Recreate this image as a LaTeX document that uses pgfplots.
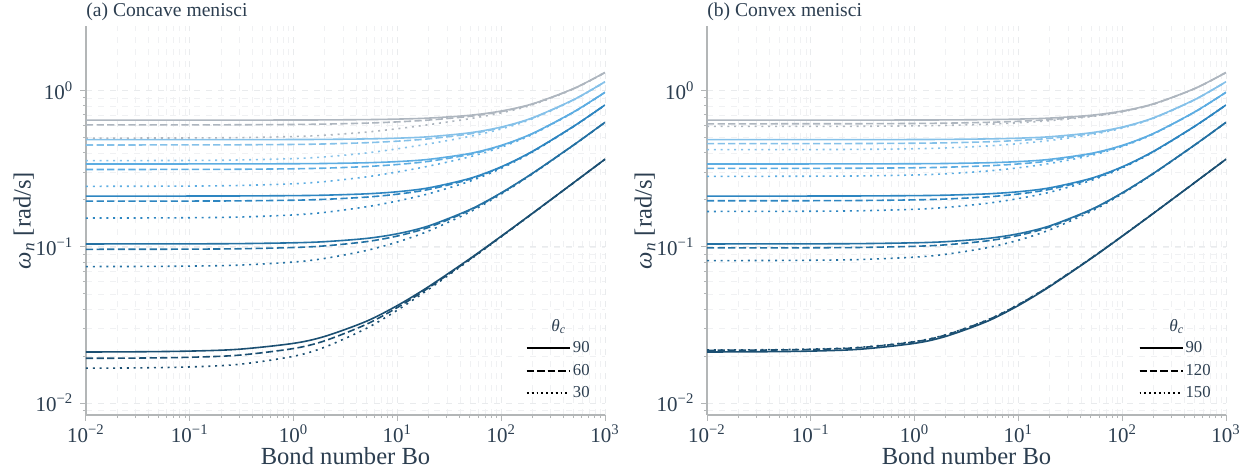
\documentclass[border=0pt]{standalone}
\usepackage{fontspec}
\setmainfont{Liberation Serif}
\usepackage{amsmath}
\usepackage{pgfplots}
\pgfplotsset{compat=1.18}
\usepackage{pgfplotstable}

\definecolor{c1}{HTML}{1B4F72}
\definecolor{c2}{HTML}{2471A3}
\definecolor{c3}{HTML}{2E86C1}
\definecolor{c4}{HTML}{5DADE2}
\definecolor{c5}{HTML}{85C1E9}
\definecolor{c6}{HTML}{AEB6BF}
\definecolor{txt}{HTML}{2C3E50}
\definecolor{axgray}{HTML}{B3B6B7}
\definecolor{gridc}{HTML}{E9EBED}

% 10^k tick labels in the text font
\newcommand\logtick[1]{\pgfmathtruncatemacro\tmpe{round(#1)}\pgfmathtruncatemacro\tmpa{abs(\tmpe)}10\textsuperscript{\ifnum\tmpe<0 −\fi\tmpa}}

% 90 deg (shared by both panels)
\pgfplotstableread{
Bo    s1       s2      s3      s4      s5      s6
0.01  0.02123  0.10446 0.21163 0.33985 0.48627 0.64889
0.03  0.021291 0.10450 0.21166 0.33987 0.48630 0.64891
0.1   0.02151  0.10462 0.21176 0.33996 0.48637 0.64898
0.3   0.022116 0.10499 0.21205 0.34021 0.48659 0.64918
1     0.02412  0.10626 0.21306 0.34107 0.48736 0.64988
2     0.02673  0.10805 0.21450 0.34231 0.48846 0.65088
5     0.03335  0.11326 0.21875 0.34598 0.49173 0.65386
10    0.04213  0.12143 0.22567 0.35202 0.49714 0.65880
20    0.05568  0.13632 0.23890 0.36380 0.50779 0.66858
50    0.08412  0.17349 0.27479 0.39703 0.53848 0.69707
100   0.11707  0.22201 0.32595 0.44696 0.58607 0.74214
200   0.16419  0.29609 0.40951 0.53296 0.67118 0.82492
500   0.25831  0.45034 0.59337 0.73273 0.87838 1.03424
1000  0.36469  0.62826 0.81202 0.97892 1.14309 1.31082
}\tabsolid

% concave: d = 60 deg, p = 30 deg
\pgfplotstableread{
Bo    d1       d2       d3      d4      d5      d6      p1       p2       p3      p4      p5      p6
0.01  0.01935  0.09653  0.19641 0.31338 0.44980 0.60477 0.01672  0.07485  0.15307 0.24445 0.35702 0.49783
0.03  0.019407 0.096589 0.19647 0.31343 0.44990 0.60487 0.016788 0.074957 0.15323 0.24466 0.35728 0.49807
0.1   0.01964  0.09677  0.19668 0.31368 0.45014 0.60517 0.01703  0.07535  0.15380 0.24538 0.35811 0.49894
0.3   0.020263 0.097311 0.19724 0.31435 0.45088 0.60593 0.017706 0.076455 0.15533 0.24739 0.36037 0.50133
1     0.02235  0.09911  0.19917 0.31658 0.45334 0.60855 0.01993  0.08000  0.16031 0.25389 0.36781 0.50925
2     0.02505  0.10153  0.20172 0.31955 0.45656 0.61202 0.02281  0.08441  0.16647 0.26204 0.37724 0.51934
5     0.03190  0.10804  0.20838 0.32716 0.46483 0.62077 0.03001  0.09477  0.18062 0.28087 0.39953 0.54362
10    0.04092  0.11742  0.21770 0.33731 0.47576 0.63232 0.03937  0.10748  0.19690 0.30210 0.42505 0.57171
20    0.05473  0.13344  0.23331 0.35343 0.49245 0.64946 0.05352  0.12648  0.21907 0.32920 0.45706 0.60674
50    0.08346  0.17174  0.27160 0.39123 0.52992 0.68640 0.08266  0.16756  0.26363 0.37801 0.51059 0.66312
100   0.11659  0.22081  0.32390 0.44334 0.58085 0.73576 0.11600  0.21797  0.31881 0.43525 0.56925 0.72195
200   0.16385  0.29526  0.40816 0.53072 0.66803 0.82113 0.16343  0.29331  0.40484 0.52566 0.66098 0.81304
500   0.25810  0.44984  0.59254 0.73141 0.87662 1.03227 0.25782  0.44863  0.59058 0.72855 0.87285 1.02803
1000  0.36454  0.62788  0.81145 0.97804 1.14195 1.30951 0.36433  0.62707  0.81007 0.97608 1.13943 1.30689
}\tabconcave

% convex: d = 120 deg, p = 150 deg
\pgfplotstableread{
Bo    d1       d2       d3      d4      d5      d6      p1       p2       p3      p4      p5      p6
0.01  0.02176  0.09851  0.19747 0.31847 0.45855 0.61456 0.02187  0.08172  0.16871 0.28313 0.41970 0.59114
0.03  0.021822 0.098563 0.19753 0.31852 0.45863 0.61459 0.021928 0.081814 0.16884 0.28327 0.41984 0.59127
0.1   0.02204  0.09873  0.19772 0.31871 0.45884 0.61484 0.02215  0.08214  0.16926 0.28370 0.42027 0.59161
0.3   0.022653 0.099225 0.19827 0.31932 0.45944 0.61547 0.022761 0.083037 0.17041 0.28492 0.42145 0.59258
1     0.02467  0.10089  0.20013 0.32129 0.46148 0.61765 0.02478  0.08598  0.17420 0.28889 0.42537 0.59581
2     0.02729  0.10316  0.20260 0.32393 0.46418 0.62055 0.02740  0.08970  0.17896 0.29398 0.43048 0.60005
5     0.03391  0.10933  0.20910 0.33076 0.47122 0.62803 0.03402  0.09880  0.19029 0.30633 0.44310 0.61071
10    0.04266  0.11841  0.21825 0.34009 0.48083 0.63811 0.04277  0.11045  0.20405 0.32129 0.45861 0.62428
20    0.05615  0.13414  0.23369 0.35536 0.49606 0.65367 0.05624  0.12854  0.22390 0.34226 0.48037 0.64378
50    0.08447  0.17215  0.27179 0.39231 0.53191 0.68871 0.08455  0.16877  0.26630 0.38512 0.52324 0.68327
100   0.11734  0.22110  0.32403 0.44401 0.58208 0.73717 0.11739  0.21879  0.32051 0.43959 0.57681 0.73383
200   0.16439  0.29547  0.40824 0.53109 0.66876 0.82195 0.16442  0.29387  0.40595 0.52832 0.66554 0.81997
500   0.25844  0.44993  0.59260 0.73170 0.87706 1.03269 0.25846  0.44894  0.59123 0.73009 0.87531 1.03165
1000  0.36476  0.62801  0.81153 0.97823 1.14218 1.30977 0.36480  0.62732  0.81056 0.97716 1.14103 1.30912
}\tabconvex

\pgfplotsset{
  log number format basis/.code 2 args={\logtick{#2}},
  legend image code/.code={\draw[#1] (0pt,0pt) -- (17pt,0pt); \path (0pt,0pt) -- (21.5pt,0pt);},
  every axis x label/.style={at={(axis description cs:0.5,0)}, anchor=base, yshift=-24.5pt,
    font=\fontsize{12.3}{14}\selectfont, text=txt},
  every axis y label/.style={at={(axis description cs:-0.1195,0.5)}, rotate=90, anchor=center,
    font=\fontsize{12.3}{14}\selectfont, text=txt},
  every axis title/.style={at={(axis description cs:0,1)}, anchor=base west, yshift=5pt,
    inner sep=0pt, font=\fontsize{9.8}{12}\selectfont, text=txt},
}
\tikzset{
  curve/.style={line width=0.8pt, smooth},
  dsh/.style={dash pattern=on 3.6pt off 1.7pt},
  dot/.style={dash pattern=on 1pt off 2.4pt},
}

\begin{document}
\begin{tikzpicture}
\begin{axis}[
    at={(0pt,0pt)}, anchor=south west,
    xmode=log, ymode=log,
    scale only axis, width=259.5pt, height=194.5pt,
    xmin=0.01, xmax=1000, ymin=0.00838, ymax=2.6,
    axis x line*=bottom, axis y line*=left,
    axis line style={axgray, line width=0.6pt},
    tick align=outside,
    major tick length=2.8pt, minor tick length=1.6pt,
    tick style={axgray, line width=0.5pt},
    grid=both,
    major grid style={gridc, dashed, line width=0.5pt},
    minor grid style={gridc!70, dashed, line width=0.4pt},
    tick label style={font=\fontsize{10.5}{12}\selectfont, text=txt},
    xticklabel style={yshift=1.5pt},
    title={(a) Concave menisci},
    xlabel={Bond number Bo},
    ylabel={\textit{ω}\textsubscript{\textit{n}} [rad/s]},
    legend style={at={(axis description cs:0.975,0.0306)}, anchor=south east,
      draw=none, fill=none, inner sep=0pt, row sep=1.85pt,
      font=\fontsize{8.35}{10}\selectfont,
      nodes={inner sep=1pt, text height=6pt, text depth=1.5pt, text=txt}},
    legend cell align=left,
]
\pgfplotsinvokeforeach{1,...,6}{
  \addplot[forget plot, curve, c#1] table[x=Bo, y=s#1] {\tabsolid};
  \addplot[forget plot, curve, c#1, dsh] table[x=Bo, y=d#1] {\tabconcave};
  \addplot[forget plot, curve, c#1, dot] table[x=Bo, y=p#1] {\tabconcave};
}
\addlegendimage{black, line width=1pt}
\addlegendentry{90}
\addlegendimage{black, line width=1pt, dash pattern=on 3.7pt off 1.5pt}
\addlegendentry{60}
\addlegendimage{black, line width=1pt, dash pattern=on 0.9pt off 1.5pt}
\addlegendentry{30}
\node[anchor=base, inner sep=0pt, font=\fontsize{8.6}{10}\selectfont, text=txt]
  at (axis description cs:0.911,0.214) {\textit{θ}\textsubscript{\textit{c}}};
\end{axis}

\begin{axis}[
    at={(310.5pt,0pt)}, anchor=south west,
    xmode=log, ymode=log,
    scale only axis, width=259.5pt, height=194.5pt,
    xmin=0.01, xmax=1000, ymin=0.00838, ymax=2.6,
    axis x line*=bottom, axis y line*=left,
    axis line style={axgray, line width=0.6pt},
    tick align=outside,
    major tick length=2.8pt, minor tick length=1.6pt,
    tick style={axgray, line width=0.5pt},
    grid=both,
    major grid style={gridc, dashed, line width=0.5pt},
    minor grid style={gridc!70, dashed, line width=0.4pt},
    tick label style={font=\fontsize{10.5}{12}\selectfont, text=txt},
    xticklabel style={yshift=1.5pt},
    title={(b) Convex menisci},
    xlabel={Bond number Bo},
    ylabel={\textit{ω}\textsubscript{\textit{n}} [rad/s]},
    legend style={at={(axis description cs:0.975,0.0306)}, anchor=south east,
      draw=none, fill=none, inner sep=0pt, row sep=1.85pt,
      font=\fontsize{8.35}{10}\selectfont,
      nodes={inner sep=1pt, text height=6pt, text depth=1.5pt, text=txt}},
    legend cell align=left,
]
\pgfplotsinvokeforeach{1,...,6}{
  \addplot[forget plot, curve, c#1] table[x=Bo, y=s#1] {\tabsolid};
  \addplot[forget plot, curve, c#1, dsh] table[x=Bo, y=d#1] {\tabconvex};
  \addplot[forget plot, curve, c#1, dot] table[x=Bo, y=p#1] {\tabconvex};
}
\addlegendimage{black, line width=1pt}
\addlegendentry{90}
\addlegendimage{black, line width=1pt, dash pattern=on 3.7pt off 1.5pt}
\addlegendentry{120}
\addlegendimage{black, line width=1pt, dash pattern=on 0.9pt off 1.5pt}
\addlegendentry{150}
\node[anchor=base, inner sep=0pt, font=\fontsize{8.6}{10}\selectfont, text=txt]
  at (axis description cs:0.905,0.214) {\textit{θ}\textsubscript{\textit{c}}};
\end{axis}

\pgfresetboundingbox
\path[use as bounding box] (-43pt,-29pt) rectangle (585pt,207.5pt);
\end{tikzpicture}
\end{document}
